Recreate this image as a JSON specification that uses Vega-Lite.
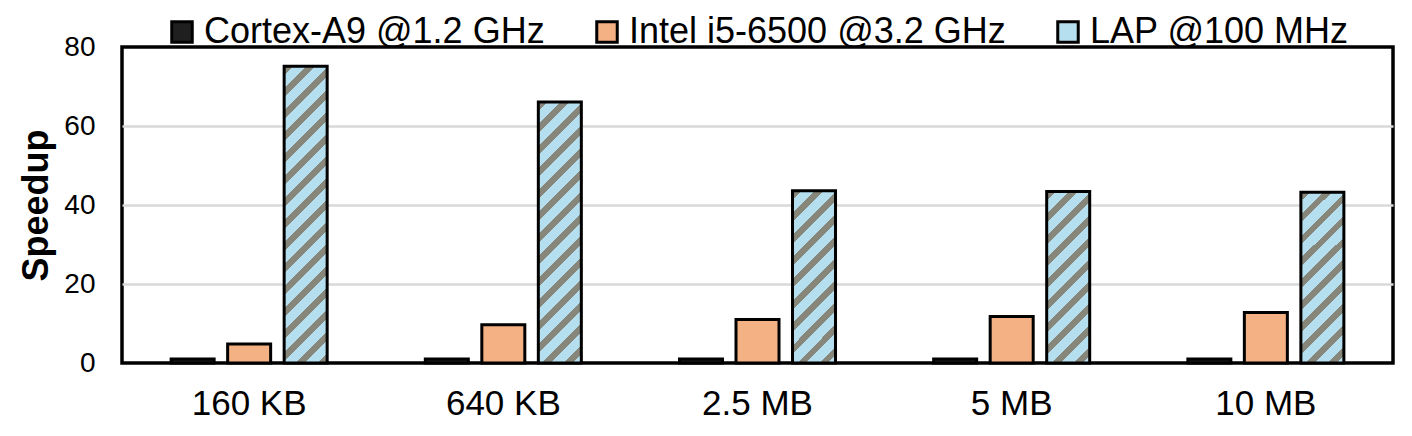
{
  "$schema": "https://vega.github.io/schema/vega-lite/v6.json",
  "width": 1271,
  "height": 316,
  "autosize": "none",
  "padding": {"left": 122, "top": 47, "right": 19, "bottom": 73},
  "background": "white",
  "config": {
    "font": "Liberation Sans",
    "view": {"stroke": "black", "strokeWidth": 3.5}
  },
  "data": {
    "values": [
      {"size": "160 KB", "series": "Cortex-A9 @1.2 GHz", "value": 1},
      {"size": "160 KB", "series": "Intel i5-6500 @3.2 GHz", "value": 4.8},
      {"size": "160 KB", "series": "LAP @100 MHz", "value": 75.1},
      {"size": "640 KB", "series": "Cortex-A9 @1.2 GHz", "value": 1},
      {"size": "640 KB", "series": "Intel i5-6500 @3.2 GHz", "value": 9.7},
      {"size": "640 KB", "series": "LAP @100 MHz", "value": 66.1},
      {"size": "2.5 MB", "series": "Cortex-A9 @1.2 GHz", "value": 1},
      {"size": "2.5 MB", "series": "Intel i5-6500 @3.2 GHz", "value": 11.0},
      {"size": "2.5 MB", "series": "LAP @100 MHz", "value": 43.6},
      {"size": "5 MB", "series": "Cortex-A9 @1.2 GHz", "value": 1},
      {"size": "5 MB", "series": "Intel i5-6500 @3.2 GHz", "value": 11.8},
      {"size": "5 MB", "series": "LAP @100 MHz", "value": 43.4},
      {"size": "10 MB", "series": "Cortex-A9 @1.2 GHz", "value": 1},
      {"size": "10 MB", "series": "Intel i5-6500 @3.2 GHz", "value": 12.8},
      {"size": "10 MB", "series": "LAP @100 MHz", "value": 43.2}
    ]
  },
  "mark": {"type": "bar", "stroke": "black", "strokeWidth": 3},
  "encoding": {
    "x": {
      "field": "size",
      "type": "nominal",
      "sort": ["160 KB", "640 KB", "2.5 MB", "5 MB", "10 MB"],
      "scale": {"paddingInner": 0.333, "paddingOuter": 0.1667},
      "axis": {
        "title": null,
        "labelFontSize": 35,
        "labelColor": "black",
        "labelPadding": 23,
        "labelAngle": 0,
        "ticks": false,
        "domain": false
      }
    },
    "xOffset": {
      "field": "series",
      "type": "nominal",
      "sort": ["Cortex-A9 @1.2 GHz", "Intel i5-6500 @3.2 GHz", "LAP @100 MHz"],
      "scale": {"paddingInner": 0.239, "paddingOuter": 0.1195}
    },
    "y": {
      "field": "value",
      "type": "quantitative",
      "scale": {"domain": [0, 80], "nice": false},
      "axis": {
        "values": [0, 20, 40, 60, 80],
        "title": "Speedup",
        "titleFontSize": 36,
        "titleFontWeight": "bold",
        "titleColor": "black",
        "titlePadding": 8,
        "labelFontSize": 28,
        "labelColor": "black",
        "labelPadding": 27,
        "labelFlush": false,
        "ticks": false,
        "domain": false,
        "grid": true,
        "gridWidth": 2.5,
        "gridColor": {
          "condition": {"test": "datum.value === 0 || datum.value === 80", "value": "rgba(0,0,0,0)"},
          "value": "#d9d9d9"
        }
      }
    },
    "fill": {
      "condition": [
        {
          "test": "datum.series === 'LAP @100 MHz' && datum.size === '160 KB'",
          "value": {
            "gradient": "linear", "x1": 0, "y1": 0, "x2": 0.16258, "y2": 1.1214,
            "stops": [
              {"offset": 0, "color": "#86867a"}, {"offset": 0.02591, "color": "#86867a"}, {"offset": 0.02591, "color": "#b5dfee"}, {"offset": 0.06478, "color": "#b5dfee"},
              {"offset": 0.06478, "color": "#86867a"}, {"offset": 0.09069, "color": "#86867a"}, {"offset": 0.09069, "color": "#b5dfee"}, {"offset": 0.12956, "color": "#b5dfee"},
              {"offset": 0.12956, "color": "#86867a"}, {"offset": 0.15547, "color": "#86867a"}, {"offset": 0.15547, "color": "#b5dfee"}, {"offset": 0.19435, "color": "#b5dfee"},
              {"offset": 0.19435, "color": "#86867a"}, {"offset": 0.22026, "color": "#86867a"}, {"offset": 0.22026, "color": "#b5dfee"}, {"offset": 0.25913, "color": "#b5dfee"},
              {"offset": 0.25913, "color": "#86867a"}, {"offset": 0.28504, "color": "#86867a"}, {"offset": 0.28504, "color": "#b5dfee"}, {"offset": 0.32391, "color": "#b5dfee"},
              {"offset": 0.32391, "color": "#86867a"}, {"offset": 0.34982, "color": "#86867a"}, {"offset": 0.34982, "color": "#b5dfee"}, {"offset": 0.38869, "color": "#b5dfee"},
              {"offset": 0.38869, "color": "#86867a"}, {"offset": 0.41460, "color": "#86867a"}, {"offset": 0.41460, "color": "#b5dfee"}, {"offset": 0.45347, "color": "#b5dfee"},
              {"offset": 0.45347, "color": "#86867a"}, {"offset": 0.47938, "color": "#86867a"}, {"offset": 0.47938, "color": "#b5dfee"}, {"offset": 0.51825, "color": "#b5dfee"},
              {"offset": 0.51825, "color": "#86867a"}, {"offset": 0.54416, "color": "#86867a"}, {"offset": 0.54416, "color": "#b5dfee"}, {"offset": 0.58304, "color": "#b5dfee"},
              {"offset": 0.58304, "color": "#86867a"}, {"offset": 0.60895, "color": "#86867a"}, {"offset": 0.60895, "color": "#b5dfee"}, {"offset": 0.64782, "color": "#b5dfee"},
              {"offset": 0.64782, "color": "#86867a"}, {"offset": 0.67373, "color": "#86867a"}, {"offset": 0.67373, "color": "#b5dfee"}, {"offset": 0.71260, "color": "#b5dfee"},
              {"offset": 0.71260, "color": "#86867a"}, {"offset": 0.73851, "color": "#86867a"}, {"offset": 0.73851, "color": "#b5dfee"}, {"offset": 0.77738, "color": "#b5dfee"},
              {"offset": 0.77738, "color": "#86867a"}, {"offset": 0.80329, "color": "#86867a"}, {"offset": 0.80329, "color": "#b5dfee"}, {"offset": 0.84216, "color": "#b5dfee"},
              {"offset": 0.84216, "color": "#86867a"}, {"offset": 0.86807, "color": "#86867a"}, {"offset": 0.86807, "color": "#b5dfee"}, {"offset": 0.90694, "color": "#b5dfee"},
              {"offset": 0.90694, "color": "#86867a"}, {"offset": 0.93285, "color": "#86867a"}, {"offset": 0.93285, "color": "#b5dfee"}, {"offset": 0.97173, "color": "#b5dfee"},
              {"offset": 0.97173, "color": "#86867a"}, {"offset": 0.99764, "color": "#86867a"}, {"offset": 0.99764, "color": "#b5dfee"}, {"offset": 1, "color": "#b5dfee"}
            ]
          }
        },
        {
          "test": "datum.series === 'LAP @100 MHz' && datum.size === '640 KB'",
          "value": {
            "gradient": "linear", "x1": 0, "y1": 0, "x2": 0.18675, "y2": 1.1340,
            "stops": [
              {"offset": 0, "color": "#86867a"}, {"offset": 0.02894, "color": "#86867a"}, {"offset": 0.02894, "color": "#b5dfee"}, {"offset": 0.07234, "color": "#b5dfee"},
              {"offset": 0.07234, "color": "#86867a"}, {"offset": 0.10128, "color": "#86867a"}, {"offset": 0.10128, "color": "#b5dfee"}, {"offset": 0.14469, "color": "#b5dfee"},
              {"offset": 0.14469, "color": "#86867a"}, {"offset": 0.17363, "color": "#86867a"}, {"offset": 0.17363, "color": "#b5dfee"}, {"offset": 0.21703, "color": "#b5dfee"},
              {"offset": 0.21703, "color": "#86867a"}, {"offset": 0.24597, "color": "#86867a"}, {"offset": 0.24597, "color": "#b5dfee"}, {"offset": 0.28938, "color": "#b5dfee"},
              {"offset": 0.28938, "color": "#86867a"}, {"offset": 0.31832, "color": "#86867a"}, {"offset": 0.31832, "color": "#b5dfee"}, {"offset": 0.36172, "color": "#b5dfee"},
              {"offset": 0.36172, "color": "#86867a"}, {"offset": 0.39066, "color": "#86867a"}, {"offset": 0.39066, "color": "#b5dfee"}, {"offset": 0.43407, "color": "#b5dfee"},
              {"offset": 0.43407, "color": "#86867a"}, {"offset": 0.46301, "color": "#86867a"}, {"offset": 0.46301, "color": "#b5dfee"}, {"offset": 0.50641, "color": "#b5dfee"},
              {"offset": 0.50641, "color": "#86867a"}, {"offset": 0.53535, "color": "#86867a"}, {"offset": 0.53535, "color": "#b5dfee"}, {"offset": 0.57876, "color": "#b5dfee"},
              {"offset": 0.57876, "color": "#86867a"}, {"offset": 0.60770, "color": "#86867a"}, {"offset": 0.60770, "color": "#b5dfee"}, {"offset": 0.65110, "color": "#b5dfee"},
              {"offset": 0.65110, "color": "#86867a"}, {"offset": 0.68004, "color": "#86867a"}, {"offset": 0.68004, "color": "#b5dfee"}, {"offset": 0.72345, "color": "#b5dfee"},
              {"offset": 0.72345, "color": "#86867a"}, {"offset": 0.75239, "color": "#86867a"}, {"offset": 0.75239, "color": "#b5dfee"}, {"offset": 0.79579, "color": "#b5dfee"},
              {"offset": 0.79579, "color": "#86867a"}, {"offset": 0.82473, "color": "#86867a"}, {"offset": 0.82473, "color": "#b5dfee"}, {"offset": 0.86814, "color": "#b5dfee"},
              {"offset": 0.86814, "color": "#86867a"}, {"offset": 0.89708, "color": "#86867a"}, {"offset": 0.89708, "color": "#b5dfee"}, {"offset": 0.94048, "color": "#b5dfee"},
              {"offset": 0.94048, "color": "#86867a"}, {"offset": 0.96942, "color": "#86867a"}, {"offset": 0.96942, "color": "#b5dfee"}, {"offset": 1, "color": "#b5dfee"}
            ]
          }
        },
        {
          "test": "datum.series === 'LAP @100 MHz'",
          "value": {
            "gradient": "linear", "x1": 0, "y1": 0, "x2": 0.29524, "y2": 1.17683,
            "stops": [
              {"offset": 0, "color": "#86867a"}, {"offset": 0.04104, "color": "#86867a"}, {"offset": 0.04104, "color": "#b5dfee"}, {"offset": 0.10261, "color": "#b5dfee"},
              {"offset": 0.10261, "color": "#86867a"}, {"offset": 0.14366, "color": "#86867a"}, {"offset": 0.14366, "color": "#b5dfee"}, {"offset": 0.20522, "color": "#b5dfee"},
              {"offset": 0.20522, "color": "#86867a"}, {"offset": 0.24627, "color": "#86867a"}, {"offset": 0.24627, "color": "#b5dfee"}, {"offset": 0.30784, "color": "#b5dfee"},
              {"offset": 0.30784, "color": "#86867a"}, {"offset": 0.34888, "color": "#86867a"}, {"offset": 0.34888, "color": "#b5dfee"}, {"offset": 0.41045, "color": "#b5dfee"},
              {"offset": 0.41045, "color": "#86867a"}, {"offset": 0.45149, "color": "#86867a"}, {"offset": 0.45149, "color": "#b5dfee"}, {"offset": 0.51306, "color": "#b5dfee"},
              {"offset": 0.51306, "color": "#86867a"}, {"offset": 0.55410, "color": "#86867a"}, {"offset": 0.55410, "color": "#b5dfee"}, {"offset": 0.61567, "color": "#b5dfee"},
              {"offset": 0.61567, "color": "#86867a"}, {"offset": 0.65672, "color": "#86867a"}, {"offset": 0.65672, "color": "#b5dfee"}, {"offset": 0.71828, "color": "#b5dfee"},
              {"offset": 0.71828, "color": "#86867a"}, {"offset": 0.75933, "color": "#86867a"}, {"offset": 0.75933, "color": "#b5dfee"}, {"offset": 0.82090, "color": "#b5dfee"},
              {"offset": 0.82090, "color": "#86867a"}, {"offset": 0.86194, "color": "#86867a"}, {"offset": 0.86194, "color": "#b5dfee"}, {"offset": 0.92351, "color": "#b5dfee"},
              {"offset": 0.92351, "color": "#86867a"}, {"offset": 0.96455, "color": "#86867a"}, {"offset": 0.96455, "color": "#b5dfee"}, {"offset": 1, "color": "#b5dfee"}
            ]
          }
        }
      ],
      "field": "series",
      "type": "nominal",
      "scale": {
        "domain": ["Cortex-A9 @1.2 GHz", "Intel i5-6500 @3.2 GHz", "LAP @100 MHz"],
        "range": ["#1f1f1f", "#f4b183", "#b5dfee"]
      },
      "legend": {
        "title": null,
        "orient": "none",
        "legendX": 42,
        "legendY": -33,
        "direction": "horizontal",
        "padding": 0,
        "symbolType": "square",
        "symbolSize": 420,
        "symbolStrokeColor": "black",
        "symbolStrokeWidth": 3,
        "symbolOpacity": 1,
        "labelFontSize": 36,
        "labelColor": "black",
        "labelOffset": 4,
        "labelLimit": 600,
        "columnPadding": 44,
        "encode": {
          "symbols": {
            "enter": {
              "stroke": {"value": "black"},
              "strokeWidth": {"value": 3}
            },
            "update": {
              "stroke": {"value": "black"},
              "strokeWidth": {"value": 3},
              "fill": [
                {
                  "test": "datum.value === 'LAP @100 MHz'",
                  "value": {
                    "gradient": "linear", "x1": 0, "y1": 0, "x2": 1, "y2": 1,
                    "stops": [
                      {"offset": 0, "color": "#86867a"}, {"offset": 0.2316, "color": "#86867a"}, {"offset": 0.2316, "color": "#b5dfee"}, {"offset": 0.5789, "color": "#b5dfee"},
                      {"offset": 0.5789, "color": "#86867a"}, {"offset": 0.8105, "color": "#86867a"}, {"offset": 0.8105, "color": "#b5dfee"}, {"offset": 1, "color": "#b5dfee"}
                    ]
                  }
                },
                {"scale": "fill", "field": "value"}
              ]
            }
          }
        }
      }
    }
  }
}
